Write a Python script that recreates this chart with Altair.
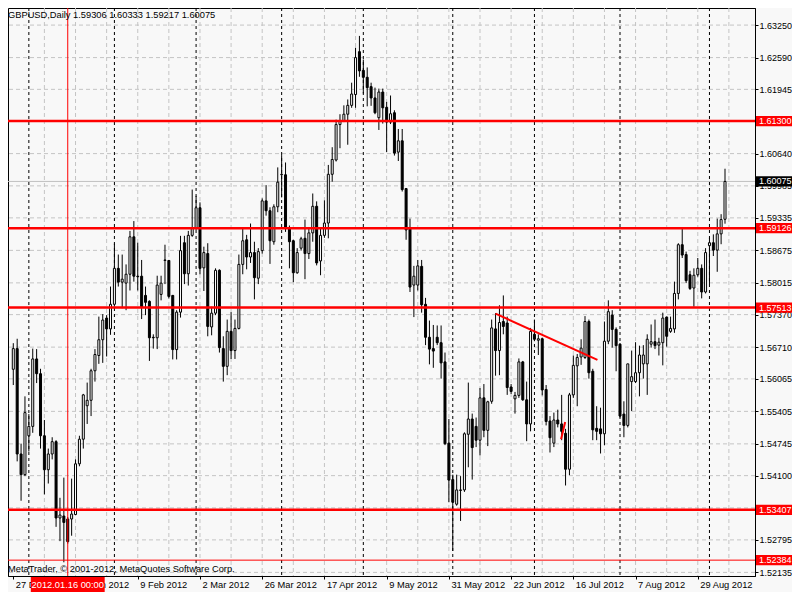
import altair as alt
import pandas as pd

# ---- candle data (GBPUSD daily, 27 Dec 2011 .. 7 Sep 2012), one entry per bar ----
opens = [1.5626,1.5668,1.5454,1.5412,1.5491,1.5510,1.5647,1.5617,1.5491,1.5422,
         1.5454,1.5479,1.5324,1.5328,1.5322,1.5322,1.5331,1.5434,1.5484,1.5552,
         1.5563,1.5623,1.5654,1.5686,1.5730,1.5708,1.5758,1.5831,1.5803,1.5801,
         1.5819,1.5895,1.5815,1.5815,1.5776,1.5764,1.5691,1.5690,1.5778,1.5847,
         1.5847,1.5776,1.5666,1.5742,1.5883,1.5820,1.5898,1.5913,1.5954,1.5832,
         1.5861,1.5712,1.5740,1.5827,1.5668,1.5632,1.5703,1.5664,1.5709,1.5839,
         1.5889,1.5854,1.5863,1.5811,1.5867,1.5968,1.5948,1.5885,1.5956,1.6021,
         1.6021,1.5912,1.5887,1.5822,1.5872,1.5892,1.5861,1.5903,1.5957,1.5846,
         1.5898,1.5923,1.6022,1.6051,1.6123,1.6131,1.6144,1.6162,1.6184,1.6271,
         1.6233,1.6219,1.6200,1.6177,1.6137,1.6189,1.6158,1.6128,1.6147,1.6067,
         1.6090,1.5993,1.5911,1.5797,1.5797,1.5835,1.5758,1.5691,1.5668,1.5691,
         1.5680,1.5641,1.5476,1.5402,1.5352,1.5380,1.5381,1.5494,1.5525,1.5510,
         1.5482,1.5568,1.5502,1.5561,1.5708,1.5664,1.5723,1.5720,1.5590,1.5566,
         1.5573,1.5641,1.5564,1.5515,1.5697,1.5685,1.5688,1.5585,1.5521,1.5476,
         1.5523,1.5515,1.5496,1.5423,1.5574,1.5633,1.5651,1.5650,1.5723,1.5622,
         1.5506,1.5505,1.5495,1.5683,1.5736,1.5707,1.5677,1.5535,1.5512,1.5601,
         1.5601,1.5619,1.5637,1.5637,1.5677,1.5682,1.5675,1.5680,1.5732,1.5703,
         1.5708,1.5780,1.5879,1.5859,1.5818,1.5791,1.5818,1.5831,1.5783,1.5877,
         1.5883,1.5868,1.5901,1.59306]
highs = [1.5679,1.5688,1.5475,1.5571,1.5535,1.5668,1.5667,1.5627,1.5523,1.5465,
         1.5488,1.5482,1.5365,1.5406,1.5326,1.5404,1.5443,1.5491,1.5576,1.5599,
         1.5627,1.5667,1.5733,1.5738,1.5736,1.5794,1.5881,1.5859,1.5859,1.5839,
         1.5907,1.5927,1.5883,1.5848,1.5794,1.5766,1.5697,1.5816,1.5816,1.5879,
         1.5848,1.5777,1.5746,1.5897,1.5897,1.5907,1.5991,1.5978,1.5965,1.5875,
         1.5882,1.5753,1.5831,1.5829,1.5693,1.5727,1.5742,1.5727,1.5859,1.5912,
         1.5899,1.5922,1.5885,1.5872,1.5973,1.6000,1.5955,1.5961,1.6036,1.6061,
         1.6046,1.5918,1.5889,1.5872,1.5895,1.5930,1.5915,1.5983,1.5967,1.5913,
         1.5969,1.6041,1.6077,1.6133,1.6144,1.6162,1.6174,1.6208,1.6279,1.6303,
         1.6255,1.6239,1.6208,1.6198,1.6196,1.6196,1.6169,1.6182,1.6152,1.6114,
         1.6114,1.5994,1.5932,1.5836,1.5848,1.5848,1.5771,1.5725,1.5716,1.5715,
         1.5715,1.5660,1.5525,1.5412,1.5412,1.5409,1.5498,1.5599,1.5536,1.5528,
         1.5588,1.5596,1.5562,1.5727,1.5740,1.5756,1.5776,1.5733,1.5596,1.5580,
         1.5648,1.5643,1.5601,1.5710,1.5727,1.5697,1.5690,1.5594,1.5531,1.5538,
         1.5544,1.5574,1.5505,1.5578,1.5654,1.5657,1.5687,1.5734,1.5727,1.5627,
         1.5551,1.5548,1.5723,1.5766,1.5746,1.5711,1.5679,1.5561,1.5637,1.5664,
         1.5681,1.5674,1.5675,1.5697,1.5717,1.5727,1.5690,1.5741,1.5733,1.5733,
         1.5804,1.5882,1.5912,1.5865,1.5826,1.5831,1.5852,1.5839,1.5872,1.5893,
         1.5900,1.5932,1.5941,1.60333]
lows = [1.5594,1.5439,1.5359,1.5409,1.5459,1.5497,1.5598,1.5465,1.5372,1.5394,
        1.5443,1.5306,1.5277,1.5234,1.5272,1.5288,1.5330,1.5429,1.5465,1.5515,
        1.5531,1.5601,1.5637,1.5639,1.5652,1.5696,1.5753,1.5794,1.5750,1.5746,
        1.5786,1.5804,1.5786,1.5728,1.5736,1.5643,1.5668,1.5667,1.5766,1.5799,
        1.5770,1.5646,1.5646,1.5731,1.5799,1.5796,1.5895,1.5909,1.5819,1.5785,
        1.5693,1.5695,1.5736,1.5660,1.5601,1.5614,1.5647,1.5647,1.5707,1.5819,
        1.5829,1.5842,1.5768,1.5799,1.5861,1.5938,1.5840,1.5879,1.5945,1.5975,
        1.5905,1.5831,1.5803,1.5820,1.5867,1.5809,1.5850,1.5885,1.5837,1.5817,
        1.5893,1.5892,1.6007,1.6048,1.6075,1.6128,1.6082,1.6157,1.6157,1.6220,
        1.6186,1.6160,1.6161,1.6144,1.6112,1.6125,1.6067,1.6124,1.6060,1.6049,
        1.5987,1.5889,1.5783,1.5732,1.5786,1.5741,1.5675,1.5636,1.5629,1.5675,
        1.5607,1.5472,1.5356,1.5257,1.5349,1.5318,1.5377,1.5427,1.5402,1.5468,
        1.5451,1.5488,1.5470,1.5556,1.5613,1.5614,1.5697,1.5574,1.5576,1.5536,
        1.5568,1.5562,1.5480,1.5500,1.5683,1.5655,1.5573,1.5512,1.5457,1.5468,
        1.5508,1.5482,1.5390,1.5411,1.5568,1.5551,1.5635,1.5647,1.5607,1.5482,
        1.5482,1.5455,1.5472,1.5677,1.5670,1.5622,1.5528,1.5488,1.5508,1.5541,
        1.5598,1.5571,1.5607,1.5574,1.5670,1.5667,1.5654,1.5634,1.5672,1.5700,
        1.5700,1.5768,1.5852,1.5801,1.5787,1.5753,1.5814,1.5770,1.5780,1.5799,
        1.5856,1.5824,1.5880,1.59217]
closes = [1.5668,1.5454,1.5412,1.5538,1.5510,1.5647,1.5617,1.5491,1.5422,1.5454,
          1.5479,1.5324,1.5330,1.5315,1.5276,1.5332,1.5434,1.5484,1.5574,1.5563,
          1.5623,1.5656,1.5686,1.5726,1.5708,1.5758,1.5831,1.5803,1.5809,1.5819,
          1.5895,1.5815,1.5814,1.5753,1.5762,1.5690,1.5690,1.5797,1.5801,1.5848,
          1.5774,1.5666,1.5742,1.5867,1.5820,1.5898,1.5912,1.5954,1.5831,1.5863,
          1.5713,1.5740,1.5827,1.5670,1.5632,1.5703,1.5664,1.5709,1.5839,1.5887,
          1.5854,1.5863,1.5812,1.5865,1.5968,1.5948,1.5887,1.5956,1.6006,1.6022,
          1.5912,1.5885,1.5822,1.5863,1.5891,1.5861,1.5903,1.5957,1.5842,1.5898,
          1.5923,1.6022,1.6052,1.6123,1.6131,1.6144,1.6162,1.6185,1.6259,1.6232,
          1.6219,1.6198,1.6177,1.6147,1.6189,1.6157,1.6128,1.6145,1.6065,1.6090,
          1.5991,1.5909,1.5793,1.5815,1.5836,1.5757,1.5691,1.5667,1.5663,1.5680,
          1.5639,1.5475,1.5401,1.5356,1.5381,1.5381,1.5495,1.5525,1.5467,1.5482,
          1.5568,1.5502,1.5560,1.5710,1.5664,1.5721,1.5713,1.5589,1.5581,1.5573,
          1.5641,1.5564,1.5515,1.5703,1.5687,1.5688,1.5584,1.5520,1.5487,1.5523,
          1.5515,1.5500,1.5423,1.5574,1.5634,1.5650,1.5669,1.5723,1.5619,1.5503,
          1.5500,1.5495,1.5683,1.5743,1.5707,1.5674,1.5531,1.5512,1.5637,1.5611,
          1.5619,1.5655,1.5655,1.5687,1.5682,1.5674,1.5681,1.5730,1.5693,1.5709,
          1.5780,1.5879,1.5858,1.5806,1.5790,1.5817,1.5831,1.5783,1.5863,1.5883,
          1.5868,1.5901,1.5930,1.60075]

# ---- axes / annotations ----
x_tick_idx = [0, 16, 32, 48, 64, 80, 96, 112, 128, 144, 160, 176]
x_tick_labels = ["27 Dec 2011", "18 Jan 2012", "9 Feb 2012", "2 Mar 2012", "26 Mar 2012",
                 "17 Apr 2012", "9 May 2012", "31 May 2012", "22 Jun 2012", "16 Jul 2012",
                 "7 Aug 2012", "29 Aug 2012"]
price_ticks = [1.63250, 1.62590, 1.61945, 1.61300, 1.60640, 1.59985, 1.59335, 1.58675,
               1.58015, 1.57370, 1.56710, 1.56065, 1.55405, 1.54745, 1.54100, 1.53445,
               1.52795, 1.52135]
grid_idx = [8, 16, 24, 32, 40, 48, 56, 64, 72, 80, 88, 96, 104, 112, 120, 128, 136,
            144, 152, 160, 168, 176, 184]
month_sep_idx = [4, 26, 47, 69, 90, 113, 134, 156, 179]
level_prices = [1.61300, 1.59126, 1.57513, 1.53407]
bid_price = [1.60075]
cross_price = [1.52384]
cross_idx = [14]
cross_label = ["2012.01.16 00:00"]
trend_idx = [124.0, 150.2]
trend_price = [1.5739, 1.5645]
stroke_idx = [140.85, 141.9]
stroke_price = [1.5484, 1.5519]
tag_prices = [1.61300, 1.60075, 1.59126, 1.57513, 1.53407, 1.52384]
tag_colors = ["#ff0000", "#000000", "#ff0000", "#ff0000", "#ff0000", "#ff0000"]
header_text = ["GBPUSD,Daily  1.59306 1.60333 1.59217 1.60075"]
copyright_text = ["MetaTrader, \u00a9 2001-2012, MetaQuotes Software Corp."]

FONT = "Liberation Sans"
FS = 9.3
FS_AX = 9

candles = pd.DataFrame({"i": list(range(len(opens))), "open": opens, "high": highs,
                        "low": lows, "close": closes})

XS = alt.Scale(domain=[-0.075, 189.425], nice=False, zero=False)
YS = alt.Scale(domain=[1.52062, 1.63597], nice=False, zero=False)
label_arr = "[" + ",".join("'%s'" % s for s in x_tick_labels) + "]"
XA = alt.Axis(values=x_tick_idx, labelExpr=label_arr + "[round(datum.value/16)]",
              title=None, grid=False, tickSize=3, labelAlign="left", labelOffset=2,
              labelPadding=1, labelFlush=False, labelOverlap=False, labelBound=False,
              labelFontSize=FS)
YA = alt.Axis(orient="right", values=price_ticks, format=".5f", title=None, grid=False,
              tickSize=3, labelPadding=1, labelAlign="left", labelFlush=False,
              labelOverlap=False, labelFontSize=FS_AX)


def X(f):
    return alt.X(f, type="quantitative", scale=XS, axis=XA)


def Y(f):
    return alt.Y(f, type="quantitative", scale=YS, axis=YA)


hgrid = alt.Chart(pd.DataFrame({"p": price_ticks})).mark_rule(
    color="#c4c4c4", strokeDash=[4, 3], strokeWidth=1).encode(y=Y("p"))
vgrid = alt.Chart(pd.DataFrame({"i": grid_idx})).mark_rule(
    color="#c4c4c4", strokeDash=[4, 3], strokeWidth=1).encode(x=X("i"))
months = alt.Chart(pd.DataFrame({"i": month_sep_idx})).mark_rule(
    color="black", strokeDash=[3, 3], strokeWidth=1).encode(x=X("i"))
bid = alt.Chart(pd.DataFrame({"p": bid_price})).mark_rule(
    color="#c0c0c0", strokeWidth=1).encode(y=Y("p"))

wicks = alt.Chart(candles).mark_rule(color="black", strokeWidth=1).encode(
    x=X("i"), y=Y("low"), y2="high")
bodies = alt.Chart(candles).mark_bar(size=2, stroke="black", strokeWidth=1).encode(
    x=X("i"), y=Y("open"), y2="close",
    fill=alt.condition("datum.close >= datum.open", alt.value("white"), alt.value("black")))

levels = alt.Chart(pd.DataFrame({"p": level_prices})).mark_rule(
    color="#ff0000", strokeWidth=2.5).encode(y=Y("p"))
cross_h = alt.Chart(pd.DataFrame({"p": cross_price})).mark_rule(
    color="#ff0000", strokeWidth=1).encode(y=Y("p"))
cross_v = alt.Chart(pd.DataFrame({"i": cross_idx})).mark_rule(
    color="#ff0000", strokeWidth=1).encode(x=X("i"))
trend = alt.Chart(pd.DataFrame({"i": trend_idx, "p": trend_price})).mark_line(
    color="#ff0000", strokeWidth=2).encode(x=X("i"), y=Y("p"))
stroke2 = alt.Chart(pd.DataFrame({"i": stroke_idx, "p": stroke_price})).mark_line(
    color="#ff0000", strokeWidth=2).encode(x=X("i"), y=Y("p"))

header = alt.Chart(pd.DataFrame({"t": header_text})).mark_text(
    align="left", baseline="top", font=FONT, fontSize=FS, color="black").encode(
    x=alt.value(0), y=alt.value(3), text="t:N")
copyright = alt.Chart(pd.DataFrame({"t": copyright_text})).mark_text(
    align="left", baseline="middle", font=FONT, fontSize=FS, color="black").encode(
    x=alt.value(0), y=alt.value(561), text="t:N")

tags_df = pd.DataFrame({"p": tag_prices, "c": tag_colors})
tag_boxes = alt.Chart(tags_df).transform_calculate(
    lo="datum.p - 0.00104", hi="datum.p + 0.00104").mark_rect().encode(
    x=alt.value(748), x2=alt.value(784), y=Y("lo"), y2="hi",
    fill=alt.Fill("c:N", scale=None))
tag_text = alt.Chart(tags_df).transform_calculate(
    t="format(datum.p, '.5f')").mark_text(
    align="left", baseline="middle", font=FONT, fontSize=FS_AX, color="white").encode(
    x=alt.value(751), y=Y("p"), text="t:N")

date_df = pd.DataFrame({"i": cross_idx, "t": cross_label})
date_box = alt.Chart(date_df).transform_calculate(
    a="datum.i - 9.5", b="datum.i + 9.5").mark_rect(color="#ff0000").encode(
    x=X("a"), x2="b", y=alt.value(569), y2=alt.value(584))
date_text = alt.Chart(date_df).mark_text(
    align="center", baseline="middle", font=FONT, fontSize=FS, color="white").encode(
    x=X("i"), y=alt.value(576.5), text="t:N")

chart = alt.layer(
    hgrid, vgrid, months, bid, wicks, bodies, levels, cross_h, cross_v, trend, stroke2,
    header, copyright, tag_boxes, tag_text, date_box, date_text
).properties(
    width=747, height=568,
    autosize=alt.AutoSizeParams(type="none"),
    padding={"left": 0, "top": 0, "right": 37, "bottom": 16},
).configure(background="#f8f8f8").configure_view(
    stroke="black", strokeWidth=1
).configure_axis(
    labelFont=FONT, labelColor="black", tickColor="black",
    domainColor="black", domainWidth=1, tickWidth=1
)

chart.save("out.html", embed_options={"renderer": "svg", "actions": False})
